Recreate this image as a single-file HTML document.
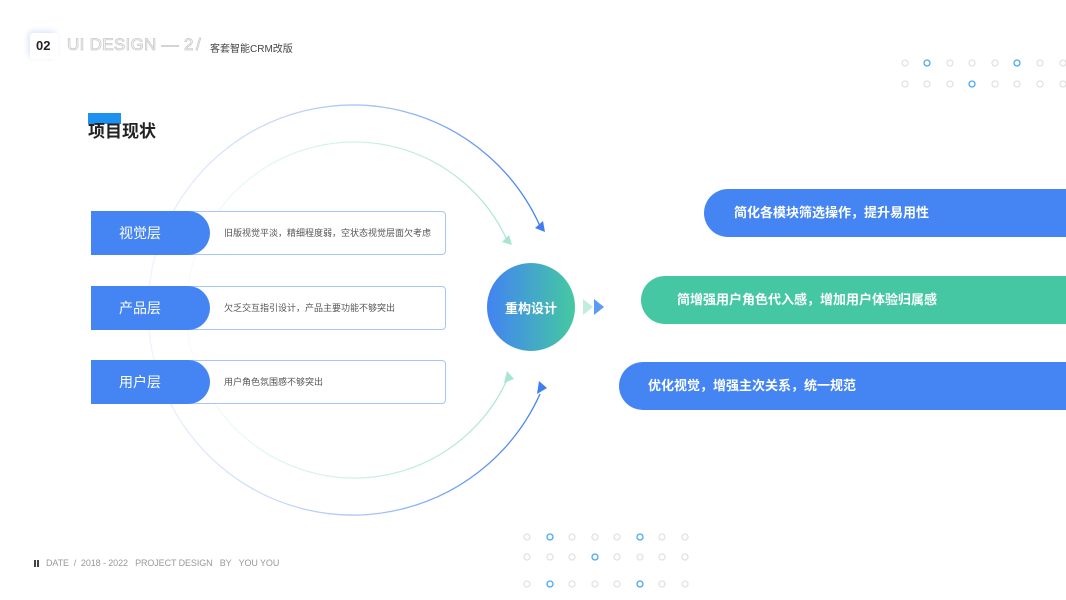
<!DOCTYPE html>
<html><head><meta charset="utf-8"><style>
*{margin:0;padding:0;box-sizing:border-box}
body{width:1066px;height:600px;background:#fff;position:relative;overflow:hidden;font-family:"Liberation Sans","Noto Sans CJK SC",sans-serif}
.a{position:absolute;white-space:nowrap}
.pill{position:absolute;height:44px;width:119px;background:#4485f3;border-radius:0 22px 22px 0;color:#fff;font-size:14px;line-height:44px;padding-left:28px}
.box{position:absolute;left:91px;width:355px;height:44px;border:1px solid #a9c6f8;border-radius:4px;background:#fff}
.desc{position:absolute;left:224px;font-size:9px;color:#555;line-height:44px}
.rp{position:absolute;right:0;height:48px;border-radius:24px 0 0 24px;color:#fff;font-size:13px;font-weight:bold;line-height:48px}
</style></head><body>
<div class="a" style="left:30px;top:33px;width:28px;height:26px;background:#fff;box-shadow:-2px -2px 6px #dbe6fb;border-radius:3px"></div>
<div class="a" style="left:36px;top:38px;font-size:13px;font-weight:bold;color:#222">02</div>
<div class="a" style="left:67px;top:35px;font-size:17px;font-weight:normal;color:#fff;-webkit-text-stroke:0.8px #c8c8c8;letter-spacing:0.3px">UI DESIGN — 2</div>
<div class="a" style="left:196px;top:35px;font-size:17px;color:#fff;-webkit-text-stroke:0.8px #c8c8c8">/</div>
<div class="a" style="left:210px;top:40px;font-size:10px;color:#444">客套智能CRM改版</div>
<div class="a" style="left:88px;top:113px;width:33px;height:11px;background:#1e90f0"></div>
<div class="a" style="left:88px;top:117px;font-size:17px;font-weight:bold;color:#222">项目现状</div>

<svg class="a" style="left:0;top:0" width="1066" height="600">
<defs>
<linearGradient id="g1" x1="150" y1="0" x2="545" y2="0" gradientUnits="userSpaceOnUse"><stop offset="0" stop-color="#eef3fd"/><stop offset="0.6" stop-color="#9fbff7"/><stop offset="1" stop-color="#3f7ef0"/></linearGradient>
<linearGradient id="g2" x1="187" y1="0" x2="512" y2="0" gradientUnits="userSpaceOnUse"><stop offset="0" stop-color="#f5fcfa"/><stop offset="1" stop-color="#a6e5d2"/></linearGradient>
<linearGradient id="gc" x1="0" y1="0" x2="1" y2="0"><stop offset="0" stop-color="#4283f3"/><stop offset="1" stop-color="#45c9a0"/></linearGradient>
</defs>
<path d="M540 226 A205 205 0 1 0 540 394" fill="none" stroke="url(#g1)" stroke-width="1.3"/>
<path d="M507 240 A168 168 0 1 0 507 380" fill="none" stroke="url(#g2)" stroke-width="1.2"/>
<polygon points="545,232 535,228 543,221" fill="#3f7ef0"/>
<polygon points="545,386 535,392 543,399" fill="#3f7ef0" transform="rotate(180 541 390)"/>
<polygon points="512,245 502,242 509,235" fill="#a6e5d2"/>
<polygon points="512,373 502,377 509,385" fill="#a6e5d2" transform="rotate(180 508 378)"/>
<circle cx="531" cy="307" r="44" fill="url(#gc)"/>
<polygon points="583,299 593,307 583,315" fill="#bfeedd"/>
<polygon points="594,299 604,307 594,315" fill="#5b9af5"/>
<g fill="none" stroke-width="1.3">
<g stroke="#e2e2e2">
<circle cx="905" cy="63" r="3"/><circle cx="950" cy="63" r="3"/><circle cx="972" cy="63" r="3"/><circle cx="995" cy="63" r="3"/><circle cx="1040" cy="63" r="3"/><circle cx="1063" cy="63" r="3"/>
<circle cx="905" cy="84" r="3"/><circle cx="927" cy="84" r="3"/><circle cx="950" cy="84" r="3"/><circle cx="995" cy="84" r="3"/><circle cx="1017" cy="84" r="3"/><circle cx="1040" cy="84" r="3"/><circle cx="1063" cy="84" r="3"/>
<circle cx="527" cy="537" r="3"/><circle cx="572" cy="537" r="3"/><circle cx="595" cy="537" r="3"/><circle cx="617" cy="537" r="3"/><circle cx="662" cy="537" r="3"/><circle cx="685" cy="537" r="3"/>
<circle cx="527" cy="557" r="3"/><circle cx="550" cy="557" r="3"/><circle cx="572" cy="557" r="3"/><circle cx="617" cy="557" r="3"/><circle cx="640" cy="557" r="3"/><circle cx="662" cy="557" r="3"/><circle cx="685" cy="557" r="3"/>
<circle cx="527" cy="584" r="3"/><circle cx="572" cy="584" r="3"/><circle cx="595" cy="584" r="3"/><circle cx="617" cy="584" r="3"/><circle cx="662" cy="584" r="3"/><circle cx="685" cy="584" r="3"/>
</g>
<g stroke="#4aa8f5">
<circle cx="927" cy="63" r="3"/><circle cx="1017" cy="63" r="3"/><circle cx="972" cy="84" r="3"/>
<circle cx="550" cy="537" r="3"/><circle cx="640" cy="537" r="3"/><circle cx="595" cy="557" r="3"/><circle cx="550" cy="584" r="3"/><circle cx="640" cy="584" r="3"/>
</g></g>
</svg>
<div class="a" style="left:487px;top:298px;width:88px;text-align:center;color:#fff;font-size:13px;font-weight:bold">重构设计</div>

<div class="box" style="top:211px"></div><div class="pill" style="left:91px;top:211px">视觉层</div><div class="desc" style="top:211px">旧版视觉平淡，精细程度弱，空状态视觉层面欠考虑</div>
<div class="box" style="top:286px"></div><div class="pill" style="left:91px;top:286px">产品层</div><div class="desc" style="top:286px">欠乏交互指引设计，产品主要功能不够突出</div>
<div class="box" style="top:360px"></div><div class="pill" style="left:91px;top:360px">用户层</div><div class="desc" style="top:360px">用户角色氛围感不够突出</div>

<div class="rp" style="left:704px;top:189px;background:#4485f3;padding-left:30px">简化各模块筛选操作，提升易用性</div>
<div class="rp" style="left:641px;top:276px;background:#45c7a4;padding-left:36px">简增强用户角色代入感，增加用户体验归属感</div>
<div class="rp" style="left:619px;top:362px;background:#4485f3;padding-left:29px">优化视觉，增强主次关系，统一规范</div>

<div class="a" style="left:34px;top:560px;width:2px;height:7px;background:#444"></div>
<div class="a" style="left:37px;top:560px;width:2px;height:7px;background:#444"></div>
<div class="a" style="left:46px;top:558px;font-size:9px;color:#999;letter-spacing:-0.1px">DATE &nbsp;/ &nbsp;2018 - 2022 &nbsp;&nbsp;PROJECT DESIGN &nbsp;&nbsp;BY &nbsp;&nbsp;YOU YOU</div>
</body></html>
